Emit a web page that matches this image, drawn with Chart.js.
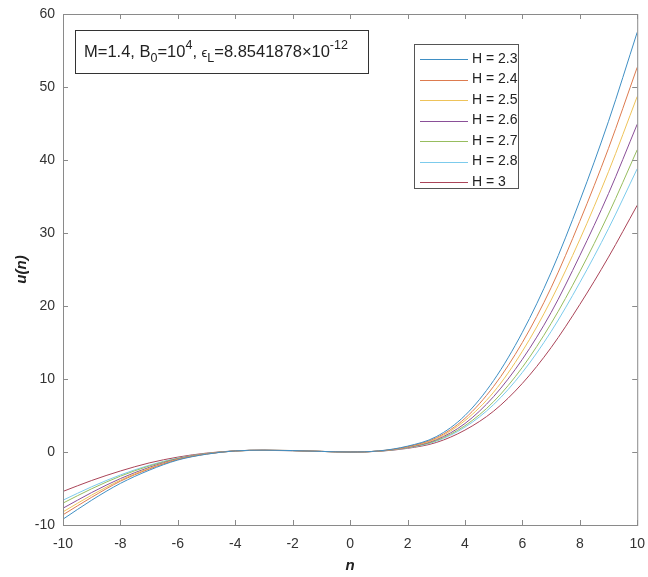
<!DOCTYPE html>
<html>
<head>
<meta charset="utf-8">
<script src="https://cdn.jsdelivr.net/npm/chart.js@4/dist/chart.umd.min.js"></script>
<style>
  html, body { margin: 0; padding: 0; background: #fff; }
  #wrap { width: 648px; height: 577px; }
</style>
</head>
<body>
<div id="wrap"><canvas id="uChart" width="648" height="577"></canvas></div>
<script>
// n values along the x axis
const nValues = [-10, -9, -8, -7, -6, -5, -4, -3, -2, -1, 0, 1, 2, 3, 4, 5, 6, 7, 8, 9, 10];

// u(n) for each H
const h23 = [-9.2, -6.6, -4.3, -2.5, -1.1, -0.3, 0.15, 0.25, 0.2, 0.08, 0, 0.15, 0.8, 2.1, 5.0, 9.8, 16.4, 24.6, 34.4, 45.3, 57.5];
const h24 = [-8.6, -6.2, -4.0, -2.34, -1.04, -0.28, 0.15, 0.25, 0.2, 0.08, 0, 0.14, 0.74, 1.94, 4.6, 9.0, 15.0, 22.5, 31.6, 41.6, 52.7];
const h25 = [-8.2, -5.9, -3.86, -2.24, -1.0, -0.26, 0.15, 0.24, 0.2, 0.08, 0, 0.13, 0.69, 1.8, 4.3, 8.2, 13.8, 20.8, 29.1, 38.4, 48.7];
const h26 = [-7.7, -5.55, -3.64, -2.11, -0.94, -0.24, 0.15, 0.24, 0.19, 0.08, 0, 0.12, 0.64, 1.68, 3.9, 7.6, 12.7, 19.1, 26.9, 35.4, 44.9];
const h27 = [-7.0, -5.03, -3.31, -1.92, -0.87, -0.21, 0.15, 0.23, 0.19, 0.08, 0, 0.12, 0.6, 1.56, 3.6, 6.9, 11.6, 17.6, 24.7, 32.6, 41.4];
const h28 = [-6.6, -4.76, -3.14, -1.82, -0.83, -0.2, 0.15, 0.23, 0.18, 0.08, 0, 0.11, 0.56, 1.47, 3.4, 6.5, 10.9, 16.5, 23.2, 30.6, 38.8];
const h30 = [-5.4, -3.9, -2.6, -1.5, -0.7, -0.15, 0.15, 0.22, 0.18, 0.08, 0, 0.1, 0.5, 1.3, 3.0, 5.6, 9.4, 14.3, 20.2, 26.7, 33.8];

const seriesLabels = ['H = 2.3', 'H = 2.4', 'H = 2.5', 'H = 2.6', 'H = 2.7', 'H = 2.8', 'H = 3'];
const seriesData = [h23, h24, h25, h26, h27, h28, h30];
const seriesColors = ['#3f8fc4', '#dd7b4f', '#eec35a', '#8a4f98', '#97bd5f', '#7ccbec', '#aa4458'];

const xTicks = [-10, -8, -6, -4, -2, 0, 2, 4, 6, 8, 10];
const yTicks = [-10, 0, 10, 20, 30, 40, 50, 60];

const FONT = '"Liberation Sans", Arial, sans-serif';
const AXIS_GRAY = '#8a8a8a';

const matlabAxes = {
  id: 'matlabAxes',
  afterDraw(chart) {
    const ctx = chart.ctx;
    const area = chart.chartArea;
    const xs = chart.scales.x, ys = chart.scales.y;
    ctx.save();

    // axes box with inward ticks
    ctx.strokeStyle = AXIS_GRAY;
    ctx.lineWidth = 1;
    ctx.strokeRect(area.left + 0.5, area.top + 0.5, area.right - area.left, area.bottom - area.top);
    ctx.beginPath();
    xTicks.forEach(v => {
      const px = Math.round(xs.getPixelForValue(v)) + 0.5;
      ctx.moveTo(px, area.bottom); ctx.lineTo(px, area.bottom - 5);
      ctx.moveTo(px, area.top); ctx.lineTo(px, area.top + 5);
    });
    yTicks.forEach(v => {
      const py = Math.round(ys.getPixelForValue(v)) + 0.5;
      ctx.moveTo(area.left, py); ctx.lineTo(area.left + 5, py);
      ctx.moveTo(area.right, py); ctx.lineTo(area.right - 5, py);
    });
    ctx.stroke();

    // axis titles
    ctx.fillStyle = '#222';
    ctx.font = 'italic bold 15px ' + FONT;
    ctx.textAlign = 'center';
    ctx.textBaseline = 'middle';
    ctx.fillText('n', (area.left + area.right) / 2, 566);
    ctx.save();
    ctx.translate(22, (area.top + area.bottom) / 2);
    ctx.rotate(-Math.PI / 2);
    ctx.fillText('u(n)', 0, 0);
    ctx.restore();

    // annotation text box
    ctx.fillStyle = '#fff';
    ctx.fillRect(75, 30, 293, 43);
    ctx.strokeStyle = '#333';
    ctx.strokeRect(75.5, 30.5, 293, 43);
    ctx.fillStyle = '#222';
    ctx.textAlign = 'left';
    ctx.textBaseline = 'alphabetic';
    const base = 57;
    const parts = [
      ['M=1.4, B', 0], ['0', 5], ['=10', 0], ['4', -8], [', ', 0],
      ['\u03F5', 0, 13], ['L', 5], ['=8.8541878\u00D710', 0], ['-12', -8]
    ];
    let cx = 84;
    parts.forEach(p => {
      const size = p[2] || (p[1] === 0 ? 16.5 : 12.5);
      ctx.font = size + 'px ' + FONT;
      ctx.fillText(p[0], cx, base + p[1]);
      cx += ctx.measureText(p[0]).width;
    });

    // legend
    ctx.fillStyle = '#fff';
    ctx.fillRect(414, 44, 104, 144);
    ctx.strokeStyle = '#555';
    ctx.strokeRect(414.5, 44.5, 104, 144);
    ctx.font = '14px ' + FONT;
    ctx.textBaseline = 'middle';
    seriesLabels.forEach((lab, i) => {
      const y = 59 + i * 20.5;
      ctx.strokeStyle = seriesColors[i];
      ctx.lineWidth = 1;
      ctx.beginPath();
      ctx.moveTo(420, Math.round(y) + 0.5);
      ctx.lineTo(468, Math.round(y) + 0.5);
      ctx.stroke();
      ctx.fillStyle = '#222';
      ctx.fillText(lab, 472, y);
    });
    ctx.restore();
  }
};

const datasets = seriesData.map((vals, i) => ({
  label: seriesLabels[i],
  data: vals.map((v, j) => ({ x: nValues[j], y: v })),
  borderColor: seriesColors[i],
  borderWidth: 1,
  pointRadius: 0,
  fill: false,
  cubicInterpolationMode: 'monotone'
}));

new Chart(document.getElementById('uChart').getContext('2d'), {
  type: 'line',
  data: { datasets: datasets },
  options: {
    responsive: false,
    animation: false,
    layout: { padding: { top: 14, right: 9, left: 0, bottom: 0 } },
    plugins: {
      legend: { display: false },
      tooltip: { enabled: false }
    },
    scales: {
      x: {
        type: 'linear',
        min: -10,
        max: 10,
        afterFit: (scale) => { scale.height = 52; },
        afterBuildTicks: (scale) => { scale.ticks = xTicks.map(v => ({ value: v })); },
        grid: { display: false },
        border: { display: false },
        ticks: { color: '#333', padding: 3, font: { family: FONT, size: 14 } }
      },
      y: {
        min: -10,
        max: 60,
        afterFit: (scale) => { scale.width = 63; },
        afterBuildTicks: (scale) => { scale.ticks = yTicks.map(v => ({ value: v })); },
        grid: { display: false },
        border: { display: false },
        ticks: { color: '#333', padding: 0, font: { family: FONT, size: 14 } }
      }
    }
  },
  plugins: [matlabAxes]
});
</script>
</body>
</html>
